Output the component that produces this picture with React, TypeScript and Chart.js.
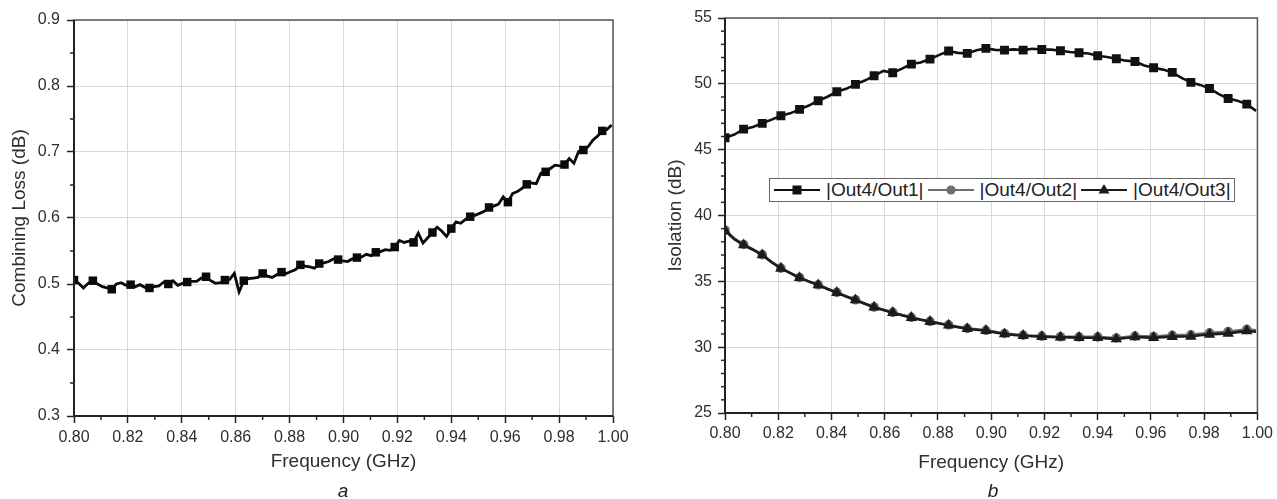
import React, { useEffect, useRef } from 'react';
import { Chart, registerables } from 'chart.js';

Chart.register(...registerables);

const FONT = "'Liberation Sans', Arial, Helvetica, sans-serif";

// ---------- data ----------
const freqStartGHz = 0.8;
const lossStepGHz = 0.00175; // sweep step of panel a
const isoStepGHz = 0.0035; // sweep step of panel b

// panel a: combining loss (dB), one value per sweep point
const combiningLoss = [
  0.506, 0.501, 0.494, 0.501, 0.505, 0.500, 0.496, 0.494,
  0.492, 0.500, 0.502, 0.498, 0.499, 0.496, 0.499, 0.495,
  0.494, 0.496, 0.497, 0.503, 0.500, 0.505, 0.498, 0.501,
  0.503, 0.504, 0.504, 0.509, 0.511, 0.505, 0.501, 0.502,
  0.506, 0.507, 0.516, 0.488, 0.505, 0.508, 0.509, 0.510,
  0.516, 0.512, 0.510, 0.514, 0.518, 0.516, 0.519, 0.522,
  0.529, 0.527, 0.526, 0.524, 0.531, 0.532, 0.534, 0.538,
  0.537, 0.535, 0.534, 0.538, 0.540, 0.541, 0.545, 0.543,
  0.548, 0.549, 0.552, 0.551, 0.556, 0.566, 0.563, 0.565,
  0.563, 0.577, 0.562, 0.570, 0.578, 0.586, 0.580, 0.572,
  0.584, 0.594, 0.592, 0.598, 0.602, 0.604, 0.607, 0.610,
  0.616, 0.618, 0.621, 0.632, 0.624, 0.637, 0.640, 0.645,
  0.651, 0.653, 0.652, 0.668, 0.670, 0.675, 0.680, 0.679,
  0.681, 0.690, 0.683, 0.701, 0.703, 0.708, 0.718, 0.724,
  0.732, 0.734, 0.741,
];

// panel b: isolation (dB)
const out4Out1 = [
  45.90, 46.15, 46.56, 46.72, 47.00, 47.28, 47.58, 47.76, 48.06, 48.35,
  48.72, 49.02, 49.40, 49.62, 49.96, 50.25, 50.61, 50.98, 50.84, 51.15,
  51.50, 51.62, 51.88, 52.20, 52.49, 52.35, 52.31, 52.55, 52.69, 52.58,
  52.56, 52.62, 52.56, 52.66, 52.61, 52.60, 52.51, 52.42, 52.36, 52.30,
  52.13, 52.04, 51.90, 51.76, 51.70, 51.40, 51.22, 51.08, 50.87, 50.45,
  50.11, 49.92, 49.65, 49.22, 48.89, 48.72, 48.46, 47.95,
];
const out4Out2 = [
  38.90, 38.25, 37.80, 37.42, 37.03, 36.48, 36.00, 35.64, 35.29, 35.00,
  34.74, 34.44, 34.16, 33.87, 33.60, 33.32, 33.05, 32.84, 32.64, 32.45,
  32.27, 32.10, 31.96, 31.82, 31.69, 31.55, 31.43, 31.35, 31.28, 31.16,
  31.04, 30.97, 30.91, 30.87, 30.84, 30.81, 30.79, 30.79, 30.78, 30.78,
  30.78, 30.74, 30.70, 30.77, 30.84, 30.82, 30.81, 30.86, 30.90, 30.92,
  30.94, 31.02, 31.09, 31.13, 31.18, 31.27, 31.35, 31.28,
];
const out4Out3 = [
  38.85, 38.20, 37.76, 37.40, 37.00, 36.45, 35.98, 35.62, 35.27, 34.98,
  34.72, 34.42, 34.14, 33.85, 33.58, 33.30, 33.03, 32.82, 32.62, 32.42,
  32.24, 32.08, 31.94, 31.80, 31.66, 31.52, 31.40, 31.32, 31.25, 31.12,
  31.00, 30.93, 30.87, 30.83, 30.80, 30.77, 30.75, 30.74, 30.72, 30.72,
  30.72, 30.67, 30.62, 30.70, 30.77, 30.74, 30.72, 30.76, 30.80, 30.81,
  30.82, 30.90, 30.97, 31.01, 31.05, 31.14, 31.23, 31.17,
];

const legendLabels = ['|Out4/Out1|', '|Out4/Out2|', '|Out4/Out3|'];
const xAxisTitle = 'Frequency (GHz)';
const yTitleA = 'Combining Loss (dB)';
const yTitleB = 'Isolation (dB)';

// ---------- helpers ----------
const toPoints = (values: number[], step: number) =>
  values.map((v, i) => ({ x: freqStartGHz + i * step, y: v }));

const framePlugin = {
  id: 'frameMinor',
  afterDraw(chart: any, _args: any, opts: any) {
    const { ctx, chartArea: a } = chart;
    const xs = chart.scales.x;
    const ys = chart.scales.y;
    ctx.save();
    ctx.strokeStyle = '#2a2a2a';
    ctx.lineWidth = 1.5;
    const drawMinor = (scale: any, n: number, horizontal: boolean) => {
      const vals = scale.ticks.map((t: any) => t.value);
      for (let i = 0; i < vals.length - 1; i++) {
        for (let j = 1; j < n; j++) {
          const v = vals[i] + ((vals[i + 1] - vals[i]) * j) / n;
          const p = scale.getPixelForValue(v);
          ctx.beginPath();
          if (horizontal) {
            ctx.moveTo(p, a.bottom);
            ctx.lineTo(p, a.bottom + opts.minorLen);
          } else {
            ctx.moveTo(a.left, p);
            ctx.lineTo(a.left - opts.minorLen, p);
          }
          ctx.stroke();
        }
      }
    };
    drawMinor(xs, opts.xMinor, true);
    drawMinor(ys, opts.yMinor, false);
    ctx.strokeStyle = '#555';
    ctx.lineWidth = 1.5;
    ctx.strokeRect(a.left, a.top, a.right - a.left, a.bottom - a.top);
    ctx.strokeStyle = '#222';
    ctx.lineWidth = 2;
    ctx.beginPath();
    ctx.moveTo(a.left, a.top);
    ctx.lineTo(a.left, a.bottom);
    ctx.lineTo(a.right, a.bottom);
    ctx.stroke();
    ctx.restore();
  },
};

function makeScales(o: {
  yMin: number; yMax: number; yStep: number; yDigits: number; yTitle: string;
  xHeight: number; yWidth: number; xTitlePadBottom: number; yTitlePadTop: number;
  xTickPad: number; yTickPad: number;
}) {
  const grid = { color: '#d9d9d9', lineWidth: 1, tickColor: '#222', tickLength: 7, tickWidth: 1.5 };
  return {
    x: {
      type: 'linear',
      min: 0.8,
      max: 1.0,
      afterFit: (s: any) => { s.height = o.xHeight; },
      ticks: {
        stepSize: 0.02,
        autoSkip: false,
        maxRotation: 0,
        maxTicksLimit: 30,
        padding: o.xTickPad,
        color: '#2e2e2e',
        font: { family: FONT, size: 16 },
        callback: (v: any) => Number(v).toFixed(2),
      },
      grid,
      border: { display: false },
      title: {
        display: true,
        text: xAxisTitle,
        color: '#2e2e2e',
        font: { family: FONT, size: 19 },
        padding: { top: 0, bottom: o.xTitlePadBottom },
      },
    },
    y: {
      type: 'linear',
      min: o.yMin,
      max: o.yMax,
      afterFit: (s: any) => { s.width = o.yWidth; },
      ticks: {
        stepSize: o.yStep,
        maxTicksLimit: 30,
        padding: o.yTickPad,
        color: '#2e2e2e',
        font: { family: FONT, size: 16 },
        callback: (v: any) => Number(v).toFixed(o.yDigits),
      },
      grid,
      border: { display: false },
      title: {
        display: true,
        text: o.yTitle,
        color: '#2e2e2e',
        font: { family: FONT, size: 19 },
        padding: { top: o.yTitlePadTop, bottom: 0 },
      },
    },
  };
}

function ChartCanvas({ width, height, left, config }: { width: number; height: number; left: number; config: () => any }) {
  const ref = useRef<HTMLCanvasElement | null>(null);
  useEffect(() => {
    if (!ref.current) return;
    const chart = new Chart(ref.current, config());
    return () => chart.destroy();
  }, []);
  return (
    <canvas
      ref={ref}
      width={width}
      height={height}
      style={{ position: 'absolute', left, top: 0, width, height }}
    />
  );
}

const configA = () => ({
  type: 'line',
  data: {
    datasets: [
      {
        data: toPoints(combiningLoss, lossStepGHz),
        borderColor: '#0a0a0a',
        borderWidth: 2.8,
        tension: 0,
        pointStyle: 'rect',
        pointRadius: (c: any) => (c.dataIndex % 4 === 0 ? 6 : 0),
        pointBackgroundColor: '#0a0a0a',
        pointBorderColor: '#0a0a0a',
        pointBorderWidth: 0,
      },
    ],
  },
  options: {
    responsive: false,
    animation: false,
    events: [],
    layout: { padding: { left: 0, right: 27, top: 20, bottom: 0 } },
    scales: makeScales({
      yMin: 0.3, yMax: 0.9, yStep: 0.1, yDigits: 1, yTitle: yTitleA,
      xHeight: 83, yWidth: 74, xTitlePadBottom: 26, yTitlePadTop: 8,
      xTickPad: 5, yTickPad: 7,
    }),
    plugins: {
      legend: { display: false },
      tooltip: { enabled: false },
      frameMinor: { xMinor: 2, yMinor: 2, minorLen: 4 },
    },
  },
  plugins: [framePlugin],
});

const seriesB = [
  { values: out4Out1, color: '#111111', style: 'rect', radius: 6.3, order: 0 },
  { values: out4Out2, color: '#6e6e6e', style: 'circle', radius: 4.8, order: 2 },
  { values: out4Out3, color: '#1c1c1c', style: 'triangle', radius: 6.6, order: 1 },
];

const configB = () => ({
  type: 'line',
  data: {
    datasets: seriesB.map((s, i) => ({
      label: legendLabels[i],
      data: toPoints(s.values, isoStepGHz),
      order: s.order,
      borderColor: s.color,
      borderWidth: 2.6,
      tension: 0,
      pointStyle: s.style,
      pointRadius: (c: any) => (c.dataIndex % 2 === 0 ? s.radius : 0),
      pointBackgroundColor: s.color,
      pointBorderColor: s.color,
      pointBorderWidth: 0,
    })),
  },
  options: {
    responsive: false,
    animation: false,
    events: [],
    layout: { padding: { left: 0, right: 16, top: 18, bottom: 0 } },
    scales: makeScales({
      yMin: 25, yMax: 55, yStep: 5, yDigits: 0, yTitle: yTitleB,
      xHeight: 86, yWidth: 85, xTitlePadBottom: 25, yTitlePadTop: 24,
      xTickPad: 4, yTickPad: 6,
    }),
    plugins: {
      legend: { display: false },
      tooltip: { enabled: false },
      frameMinor: { xMinor: 2, yMinor: 5, minorLen: 4 },
    },
  },
  plugins: [framePlugin],
});

function Symbol({ color, style }: { color: string; style: string }) {
  let marker: React.ReactNode = null;
  if (style === 'rect') marker = <rect x={18.5} y={2.5} width={9} height={9} fill={color} />;
  else if (style === 'circle') marker = <circle cx={23} cy={7} r={4.6} fill={color} />;
  else marker = <polygon points="23,1 28.5,10.5 17.5,10.5" fill={color} />;
  return (
    <svg width={46} height={14} style={{ display: 'block', flex: '0 0 auto' }}>
      <line x1={0} y1={7} x2={46} y2={7} stroke={color} strokeWidth={2.2} />
      {marker}
    </svg>
  );
}

export default function App() {
  return (
    <div style={{ position: 'relative', width: 1277, height: 499, overflow: 'hidden', background: '#fff' }}>
      <style>{'body{margin:0;background:#fff;}'}</style>
      <ChartCanvas width={640} height={499} left={0} config={configA} />
      <ChartCanvas width={637} height={499} left={640} config={configB} />
      <div
        style={{
          position: 'absolute', left: 769, top: 178, height: 24, boxSizing: 'border-box',
          border: '1px solid #666', background: '#fff', display: 'flex', alignItems: 'center',
          padding: '0 3px 0 3px', fontFamily: FONT, fontSize: 19, color: '#222', whiteSpace: 'nowrap',
        }}
      >
        {seriesB.map((s, i) => (
          <div key={i} style={{ display: 'flex', alignItems: 'center', marginLeft: i === 0 ? 1 : 4 }}>
            <Symbol color={s.color} style={s.style} />
            <span style={{ marginLeft: 6, lineHeight: '22px' }}>{legendLabels[i]}</span>
          </div>
        ))}
      </div>
      <div style={{ position: 'absolute', left: 293, width: 100, top: 481, textAlign: 'center', fontFamily: FONT, fontSize: 19, fontStyle: 'italic', lineHeight: 1, color: '#222' }}>a</div>
      <div style={{ position: 'absolute', left: 943, width: 100, top: 481, textAlign: 'center', fontFamily: FONT, fontSize: 19, fontStyle: 'italic', lineHeight: 1, color: '#222' }}>b</div>
    </div>
  );
}
